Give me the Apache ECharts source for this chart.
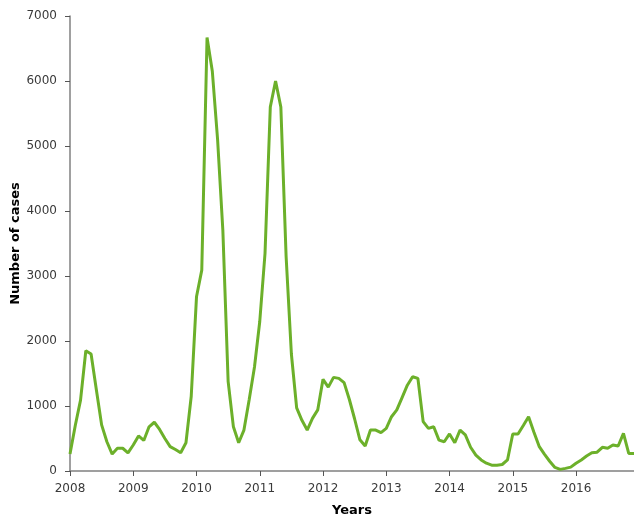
<!DOCTYPE html>
<html>
<head>
<meta charset="utf-8">
<script src="https://cdn.jsdelivr.net/npm/echarts@6/dist/echarts.min.js"></script>
<style>
  html, body { margin: 0; padding: 0; background: #fff; }
  #chart { width: 634px; height: 517px; }
</style>
</head>
<body>
<div id="chart"></div>
<script>
// monthly case counts, Jan 2008 - Dec 2016
const years = [2008, 2009, 2010, 2011, 2012, 2013, 2014, 2015, 2016]
const cases2008 = [260, 700, 1090, 1850, 1800, 1250, 710, 450, 260, 350, 350, 280]
const cases2009 = [400, 540, 470, 680, 750, 640, 500, 375, 330, 280, 435, 1150]
const cases2010 = [2680, 3090, 6670, 6150, 5100, 3700, 1380, 680, 435, 630, 1100, 1600]
const cases2011 = [2300, 3350, 5600, 6000, 5600, 3300, 1800, 970, 780, 630, 810, 940]
const cases2012 = [1410, 1290, 1440, 1425, 1360, 1100, 800, 480, 385, 630, 630, 590]
const cases2013 = [655, 835, 940, 1130, 1320, 1450, 1425, 760, 655, 680, 475, 450]
const cases2014 = [570, 435, 630, 555, 365, 245, 170, 120, 90, 90, 100, 170]
const cases2015 = [570, 570, 700, 835, 600, 380, 260, 150, 55, 25, 40, 60]
const cases2016 = [120, 170, 230, 280, 290, 365, 350, 400, 385, 580, 270, 270]

const cases = [].concat(cases2008, cases2009, cases2010, cases2011, cases2012,
  cases2013, cases2014, cases2015, cases2016)

let months = []
years.forEach(y => {
  for (let m = 1; m <= 12; m++) months.push(y + '-' + (m < 10 ? '0' + m : m))
})

let dom = echarts.init(document.getElementById('chart'))
let janOnly = (idx) => idx % 12 === 0
let option = {
  animation: false,
  grid: {
    left: 70,
    right: 0,
    top: 16,
    bottom: 46,
    containLabel: false,
    outerBoundsMode: 'none'
  },
  xAxis: {
    type: 'category',
    data: months,
    boundaryGap: false,
    name: 'Years',
    nameLocation: 'middle',
    nameGap: 33,
    nameTextStyle: {
      fontFamily: 'DejaVu Sans',
      fontSize: 13,
      fontWeight: 'bold',
      color: '#000'
    },
    axisLine: { lineStyle: { color: '#808080', width: 1.5 } },
    axisTick: { interval: janOnly, length: 5, lineStyle: { color: '#555' } },
    axisLabel: {
      interval: janOnly,
      formatter: (v) => v.slice(0, 4),
      fontFamily: 'DejaVu Sans',
      fontSize: 12,
      color: '#3a3a3a',
      margin: 12
    },
    splitLine: { show: false }
  },
  yAxis: {
    type: 'value',
    min: 0,
    max: 7000,
    interval: 1000,
    name: 'Number of cases',
    nameLocation: 'middle',
    nameGap: 48,
    nameMoveOverlap: false,
    nameRotate: 90,
    nameTextStyle: {
      fontFamily: 'DejaVu Sans',
      fontSize: 13,
      fontWeight: 'bold',
      color: '#000'
    },
    axisLine: { show: true, lineStyle: { color: '#808080', width: 1.5 } },
    axisTick: { show: true, length: 5, lineStyle: { color: '#555' } },
    axisLabel: {
      formatter: (v) => String(v),
      fontFamily: 'DejaVu Sans',
      fontSize: 12,
      color: '#3a3a3a',
      margin: 13
    },
    splitLine: { show: false }
  },
  series: [{
    type: 'line',
    data: cases,
    symbol: 'none',
    smooth: false,
    lineStyle: { color: '#6cb02a', width: 3 }
  }]
}
dom.setOption(option)
</script>
</body>
</html>
